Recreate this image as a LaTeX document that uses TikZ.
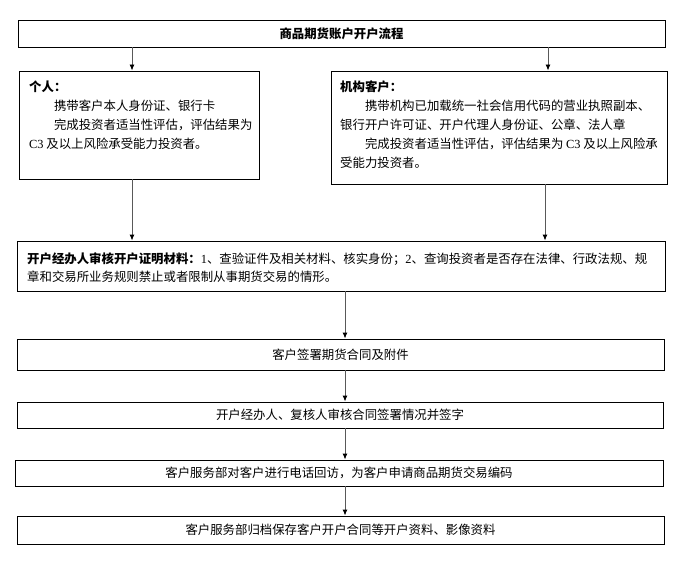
\documentclass[tikz,border=0pt]{standalone}
\usepackage{fontspec}
\setmainfont{Noto Sans CJK SC}
\newfontfamily\latf{Liberation Serif}
\usetikzlibrary{arrows.meta}
\begin{document}
\begin{tikzpicture}[x=1pt,y=-1pt,
  box/.style={draw=black,line width=0.9pt,inner sep=0pt,font=\fontsize{12.4}{15}\selectfont},
  arr/.style={draw=black!65,line width=0.9pt,-{Latex[length=6pt,width=5pt,color=black]}},
  txt/.style={inner sep=0pt,font=\fontsize{12.4}{19}\selectfont,align=left,anchor=north west}]
\useasboundingbox[fill=white] (0,0) rectangle (679,564);
% boxes
\node[box,minimum width=647,minimum height=27] (top) at (341.5,33.5) {\bfseries 商品期货账户开户流程};
\node[box,minimum width=240,minimum height=108] (lbox) at (139,125) {};
\node[box,minimum width=336,minimum height=113] (rbox) at (499,127.5) {};
\node[box,minimum width=648,minimum height=50] (rev) at (341,266) {};
\node[box,minimum width=647,minimum height=31] (b2) at (340.5,354.5) {客户签署期货合同及附件};
\node[box,minimum width=646,minimum height=26] (b3) at (340,415) {开户经办人、复核人审核合同签署情况并签字};
\node[box,minimum width=648,minimum height=26] (b4) at (339,473) {客户服务部对客户进行电话回访，为客户申请商品期货交易编码};
\node[box,minimum width=647,minimum height=28] (b5) at (340.5,530) {客户服务部归档保存客户开户合同等开户资料、影像资料};
% texts
\node[txt] (ltxt) at (29,81) {\textbf{个人：}\\
\hspace*{2em}携带客户本人身份证、银行卡\\
\hspace*{2em}完成投资者适当性评估，评估结果为\\
{\latf C3} 及以上风险承受能力投资者。};
\node[txt] (rtxt) at (340,81) {\textbf{机构客户：}\\
\hspace*{2em}携带机构已加载统一社会信用代码的营业执照副本、\\
银行开户许可证、开户代理人身份证、公章、法人章\\
\hspace*{2em}完成投资者适当性评估，评估结果为 {\latf C3} 及以上风险承\\
受能力投资者。};
\node[txt,font=\fontsize{12.4}{18}\selectfont] (revtxt) at (27,252.5) {\textbf{开户经办人审核开户证明材料：}{\latf 1}、查验证件及相关材料、核实身份；{\latf 2}、查询投资者是否存在法律、行政法规、规\\
章和交易所业务规则禁止或者限制从事期货交易的情形。};
% arrow x positions
\coordinate (lx) at (132,0);
\coordinate (rx) at (548,0);
\coordinate (rbx) at (545,0);
\coordinate (cx) at (345,0);
\draw[arr] (top.south -| lx) -- (lbox.north -| lx);
\draw[arr] (top.south -| rx) -- (rbox.north -| rx);
\draw[arr] (lbox.south -| lx) -- (rev.north -| lx);
\draw[arr] (rbox.south -| rbx) -- (rev.north -| rbx);
\draw[arr] (rev.south -| cx) -- (b2.north -| cx);
\draw[arr] (b2.south -| cx) -- (b3.north -| cx);
\draw[arr] (b3.south -| cx) -- (b4.north -| cx);
\draw[arr] (b4.south -| cx) -- (b5.north -| cx);
\end{tikzpicture}
\end{document}
